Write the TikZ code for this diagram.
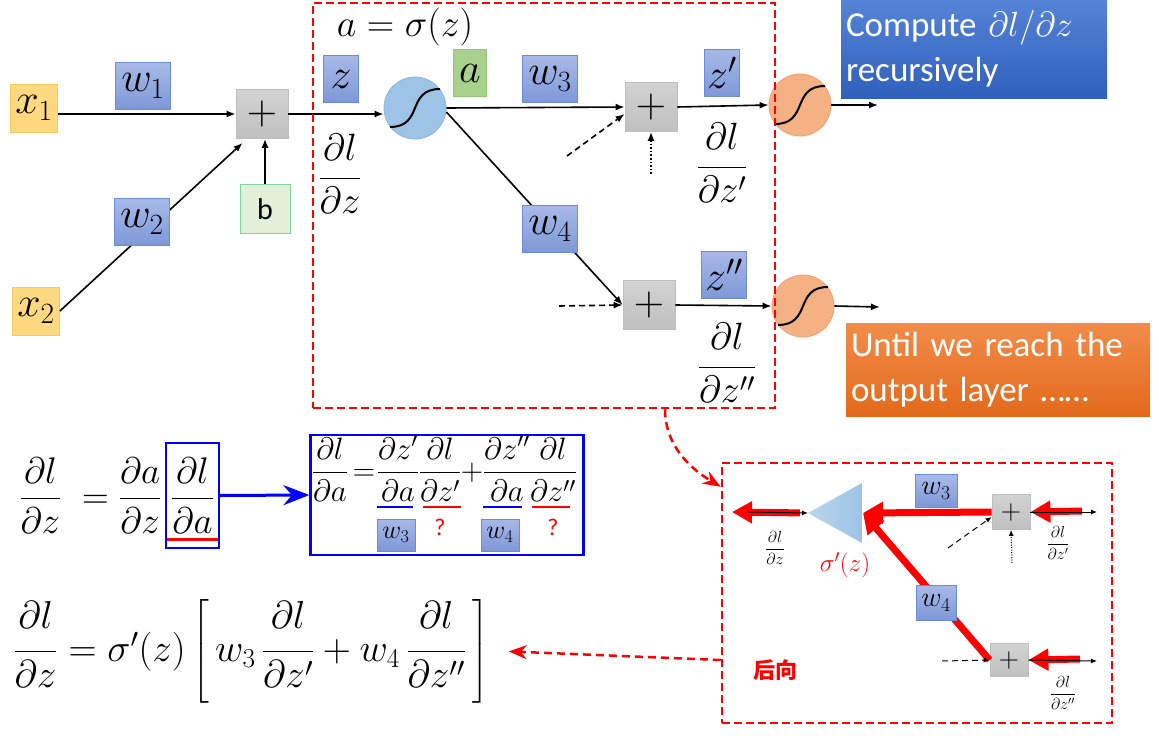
\RequirePackage{fix-cm}
\documentclass[tikz,border=0pt]{standalone}
\usepackage{amsmath}
\usepackage{fontspec}
\setsansfont{Carlito}
\newfontfamily\cjk{Noto Sans CJK SC}
\usepackage{xcolor}
\usepackage{tikz}
\usetikzlibrary{positioning}
\usetikzlibrary{arrows.meta}

\definecolor{wtop}{HTML}{A7B9E8}
\definecolor{wbot}{HTML}{7E98D7}
\definecolor{wdraw}{HTML}{6A8BD8}
\definecolor{xfill}{HTML}{FFD880}
\definecolor{xdraw}{HTML}{F9C95E}
\definecolor{gtop}{HTML}{D2D2D2}
\definecolor{gbot}{HTML}{C0C0C0}
\definecolor{gdraw}{HTML}{BDBDBD}
\definecolor{bfill}{HTML}{E2F0D9}
\definecolor{bdraw}{HTML}{7FD69C}
\definecolor{afill}{HTML}{A9D18E}
\definecolor{adraw}{HTML}{92C576}
\definecolor{nfill}{HTML}{9DC3E6}
\definecolor{ndraw}{HTML}{8AB6E3}
\definecolor{ofill}{HTML}{F4B183}
\definecolor{odraw}{HTML}{F2A074}
\definecolor{n1top}{HTML}{5583D6}
\definecolor{n1bot}{HTML}{2F60BC}
\definecolor{n2top}{HTML}{F28C4A}
\definecolor{n2bot}{HTML}{E2691A}

\newcommand{\pd}[3][0.38em]{\dfrac{#2\rule[-#1]{0pt}{#1}}{#3}}
\newcommand{\sgm}[1]{\draw[line width=2pt] ([shift={(-25,19)}]#1.center) .. controls ([shift={(9,19)}]#1.center) and ([shift={(-9,-19)}]#1.center) .. ([shift={(25,-19)}]#1.center);}

\begin{document}
\begin{tikzpicture}[x=1pt,y=-1pt,
  lbl/.style={font=\fontsize{42}{48}\selectfont},
  frc/.style={font=\fontsize{38}{44}\selectfont},
  mid/.style={font=\fontsize{31}{36}\selectfont},
  sml/.style={font=\fontsize{16}{18}\selectfont},
  wbox/.style={lbl,draw=wdraw,line width=0.8pt,top color=wtop,bottom color=wbot,minimum width=55pt,minimum height=47pt,inner sep=0pt},
  xbox/.style={lbl,draw=xdraw,line width=0.8pt,fill=xfill,minimum width=47pt,minimum height=48pt,inner sep=0pt},
  plusbox/.style={lbl,draw=gdraw,line width=0.8pt,top color=gtop,bottom color=gbot,minimum width=52pt,minimum height=49pt,inner sep=0pt},
  bbox/.style={draw=bdraw,line width=0.8pt,fill=bfill,minimum width=50pt,minimum height=49pt,inner sep=0pt,font=\sffamily\fontsize{30}{34}\selectfont},
  abox/.style={lbl,draw=adraw,line width=0.8pt,fill=afill,minimum width=33pt,minimum height=47pt,inner sep=0pt},
  neuron/.style={circle,draw=ndraw,line width=0.8pt,fill=nfill,minimum size=62pt,inner sep=0pt},
  outn/.style={circle,draw=odraw,line width=0.8pt,fill=ofill,minimum size=62pt,inner sep=0pt},
  arr/.style={line width=1.6pt,-{Latex[length=9pt,width=7pt]}},
  tarr/.style={line width=1pt,-{Latex[length=6pt,width=5pt]}},
  dsh/.style={dash pattern=on 6pt off 4pt},
  dtt/.style={dash pattern=on 1.6pt off 2pt},
  back/.style={red,line width=7pt,-{Triangle[length=20pt,width=21pt]}},
  frame/.style={draw=red,line width=2.5pt,dash pattern=on 8pt off 4pt},
  link/.style={red,line width=2.5pt,dash pattern=on 8pt off 5pt,-{Stealth[length=18pt,width=14pt]}},
  note/.style={text=white,font=\sffamily\fontsize{35}{45}\selectfont,align=left,inner sep=0pt}]
\useasboundingbox (0,0) rectangle (1159,736);

\node[xbox] (x1) at (34,108) {$x_1$};
\node[xbox] (x2) at (36,311) {$x_2$};
\node[plusbox] (p1) at (262,114) {$+$};
\node[bbox] (b) at (265,209) {b};
\node[neuron] (s1) at (415,108) {};
\node[plusbox] (p2) at (651,107) {$+$};
\node[plusbox] (p3) at (649,305) {$+$};
\node[outn] (o1) at (800,105) {};
\node[outn] (o2) at (803,306) {};
\coordinate (y1) at (878,105);
\coordinate (y2) at (880,307);
\coordinate (d2) at (567,156);
\coordinate (d3) at (651,174);
\coordinate (d4) at (559,306);

\draw[arr] (x1.east |- p1.west) -- (p1.west);
\draw[arr] (x2.east) -- ([shift={(7,4)}]p1.south west);
\draw[arr] (b.north) -- (b.north |- p1.south);
\draw[arr] (p1.east) -- (s1.west |- p1.east);
\draw[arr] (s1.east) -- (p2.west);
\draw[arr] ([yshift=-4pt]s1.east) -- (p3.west);
\draw[arr,dsh] (d2) -- ([yshift=-7pt]p2.west);
\draw[arr,dtt] (d3) -- (p2.south);
\draw[arr,dsh] (d4) -- (p3.west);
\draw[arr] (p2.east) -- (o1.west);
\draw[arr] (o1.east) -- (y1);
\draw[arr] (p3.east) -- (o2.west);
\draw[arr] (o2.east) -- (y2);
\sgm{s1}
\sgm{o1}
\sgm{o2}

\node[wbox] (w1) at (143,86) {$w_1$};
\node[wbox] (w2) at (142,222) {$w_2$};
\node[wbox,minimum width=35pt] (zb) at (341,79) {$z$};
\node[abox] (ab) at (470,73) {$a$};
\node[wbox] (w3) at (550,79) {$w_3$};
\node[wbox] (w4) at (550,229) {$w_4$};
\node[wbox,minimum width=35pt] (z1b) at (722,73) {$z'$};
\node[wbox,minimum width=45pt] (z2b) at (724,275) {$z''$};
\node[frc] (act) at (405,27) {$a=\sigma(z)$};
\node[frc] (dz) at (340,174) {$\pd{\partial l}{\partial z}$};
\node[frc] (dz1) at (722,163) {$\pd{\partial l}{\partial z'}$};
\node[frc] (dz2) at (727,363) {$\pd{\partial l}{\partial z''}$};
\node[frame,minimum width=462pt,minimum height=405pt] (fwd) at (544,205.5) {};

\node[note,top color=n1top,bottom color=n1bot,minimum width=266pt,minimum height=98pt,text width=256pt] (n1) at (974,49) {Compute $\partial l/\partial z$\\recursively};
\node[note,top color=n2top,bottom color=n2bot,minimum width=304pt,minimum height=93pt,text width=294pt] (n2) at (998,369.5) {Until we reach the\\output layer ……};

\node[frc,font=\fontsize{37}{44}\selectfont,draw=blue,line width=2pt,minimum width=53pt,minimum height=105pt,inner sep=0pt] (dla) at (192.5,495.5) {$\dfrac{\partial l}{\partial a}$};
\node[frc,font=\fontsize{37}{44}\selectfont,left=0pt of dla] (eq1) {$\dfrac{\partial l}{\partial z}\;=\dfrac{\partial a}{\partial z}$};
\draw[red,line width=3pt] ([shift={(2,-10)}]dla.south west) -- ([shift={(-2,-10)}]dla.south east);
\node[draw=blue,line width=2.2pt,minimum width=273pt,minimum height=120pt] (chn) at (447,495) {};
\draw[blue,line width=3pt,-{Stealth[length=26pt,width=20pt]}] (dla.east) -- (chn.west);
\node[mid,anchor=mid] (c1) at (330,478) {$\dfrac{\partial l}{\partial a}$};
\node[mid,anchor=mid] (ce) at (364,478) {$=$};
\node[mid,anchor=mid] (c2) at (398,478) {$\dfrac{\partial z'}{\partial a}$};
\node[mid,anchor=mid] (c3) at (440,478) {$\dfrac{\partial l}{\partial z'}$};
\node[mid,anchor=mid] (cp) at (472,478) {$+$};
\node[mid,anchor=mid] (c4) at (507,478) {$\dfrac{\partial z''}{\partial a}$};
\node[mid,anchor=mid] (c5) at (553,478) {$\dfrac{\partial l}{\partial z''}$};
\draw[blue,line width=2.5pt] (377,507) -- (413,507);
\draw[red,line width=2.5pt] (423,507) -- (461,507);
\draw[blue,line width=2.5pt] (483,507) -- (522,507);
\draw[red,line width=2.5pt] (532,507) -- (570,507);
\node[wbox,font=\fontsize{26}{30}\selectfont,minimum width=38pt,minimum height=32pt] (u3) at (396,535) {$w_3$};
\node[wbox,font=\fontsize{26}{30}\selectfont,minimum width=38pt,minimum height=32pt] (u4) at (500,535) {$w_4$};
\node[text=red,font=\sffamily\fontsize{24}{28}\selectfont] (q3) at (440,527) {?};
\node[text=red,font=\sffamily\fontsize{24}{28}\selectfont] (q4) at (553,527) {?};

\node[frc,font=\fontsize{39}{46}\selectfont,anchor=mid west] (eq3) at (10,659) {$\pd[0.5em]{\partial l}{\partial z}=\sigma'(z)\left[\,w_3\,\pd[0.5em]{\partial l}{\partial z'}+w_4\,\pd[0.5em]{\partial l}{\partial z''}\,\right]$};

\node[frame,minimum width=390pt,minimum height=260pt] (bwd) at (917,593) {};
\coordinate (sga) at (808,513);
\coordinate (sgb) at (863,513);
\shade[left color=nfill!70!white,right color=nfill] (sga) -- (862,483) -- (862,543) -- cycle;
\coordinate (lf) at (732,512);
\coordinate (ra) at (1082,511);
\coordinate (rb) at (1097,512);
\coordinate (ra2) at (1080,659);
\coordinate (rb2) at (1097,661);
\coordinate (e1) at (948,548);
\coordinate (e2) at (1012,563);
\coordinate (e3) at (942,661);
\node[plusbox,font=\fontsize{28}{30}\selectfont,minimum width=38pt,minimum height=35pt] (q1) at (1011,512) {$+$};
\node[plusbox,font=\fontsize{28}{30}\selectfont,minimum width=38pt,minimum height=33pt] (q2) at (1009,660) {$+$};
\draw[back] (q1.west) -- (sgb);
\draw[back] (q2.west) -- (sgb);
\draw[back,shorten <=8pt] (sga) -- (lf);
\draw[back] (ra) -- (q1.east);
\draw[back] (ra2) -- (q2.east);
\draw[tarr] ([xshift=16pt]lf) -- (sga);
\draw[tarr] (q1.east) -- (rb);
\draw[tarr] (q2.east) -- (rb2);
\draw[tarr,dsh] (e1) -- ([yshift=-5pt]q1.west);
\draw[tarr,dash pattern=on 1pt off 1.5pt] (e2) -- (q1.south);
\draw[tarr,dsh] (e3) -- (q2.west);
\node[wbox,font=\fontsize{28}{30}\selectfont,minimum width=42pt,minimum height=33pt] (v3) at (936,491) {$w_3$};
\node[wbox,font=\fontsize{28}{30}\selectfont,minimum width=40pt,minimum height=35pt] (v4) at (936,603) {$w_4$};
\node[sml] (g0) at (775,548) {$\dfrac{\partial l}{\partial z}$};
\node[sml] (g1) at (1058,543) {$\dfrac{\partial l}{\partial z'}$};
\node[sml] (g2) at (1063,693) {$\dfrac{\partial l}{\partial z''}$};
\node[text=red,font=\fontsize{25}{28}\selectfont] (sp) at (845,565) {$\sigma'(z)$};
\node[text=red,font=\cjk\bfseries\fontsize{22}{26}\selectfont] (bk) at (775,670) {后向};

\draw[link] ([xshift=121pt]fwd.south) .. controls +(0,40) and +(-25,-15) .. ([yshift=-25pt]bwd.north west);
\draw[link] ([yshift=-67pt]bwd.west) -- ([xshift=16pt]eq3.east);
\end{tikzpicture}
\end{document}
